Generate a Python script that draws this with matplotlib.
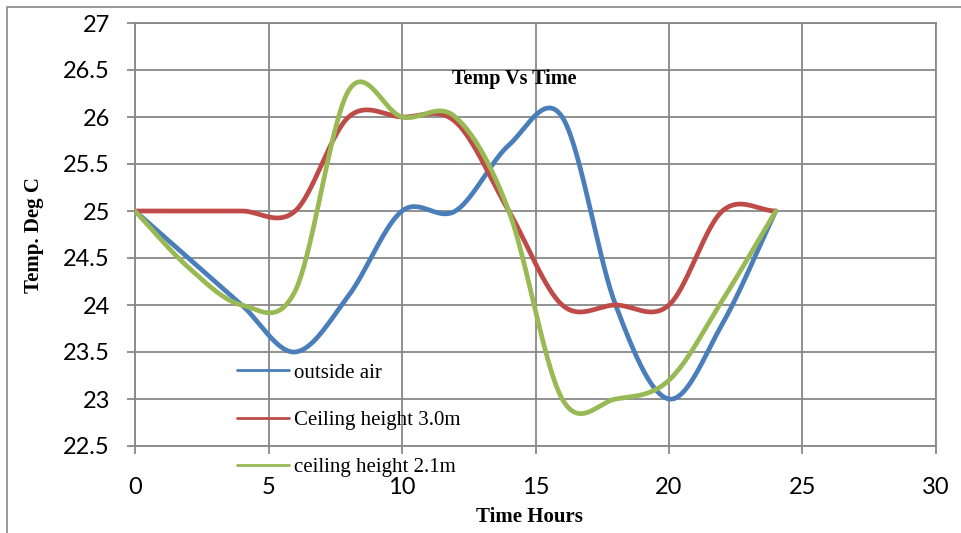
import numpy as np
import matplotlib
matplotlib.use("Agg")
import matplotlib.pyplot as plt
from matplotlib.lines import Line2D

# readings every two hours over one day
hours = [0, 2, 4, 6, 8, 10, 12, 14, 16, 18, 20, 22, 24]
outside_air = [25.0, 24.5, 24.0, 23.5, 24.1, 25.0, 25.0, 25.7, 26.0, 24.0, 23.0, 23.8, 25.0]
ceiling_3_0 = [25.0, 25.0, 25.0, 25.0, 26.0, 26.0, 25.95, 25.0, 24.0, 24.0, 24.0, 25.0, 25.0]
ceiling_2_1 = [25.0, 24.4, 24.0, 24.15, 26.28, 26.0, 26.0, 25.0, 23.0, 23.0, 23.2, 24.05, 25.0]

series_labels = ["outside air", "Ceiling height 3.0m", "ceiling height 2.1m"]
series_colors = ["#4A7EBB", "#BE4B48", "#98B954"]

x_ticks = [0, 5, 10, 15, 20, 25, 30]
y_ticks = [22.5, 23, 23.5, 24, 24.5, 25, 25.5, 26, 26.5, 27]

GRID = "#888888"
SERIF = "Liberation Serif"


def smooth(x, y, n=40):
    """Cubic Hermite (Catmull-Rom style) curve through the points."""
    x = np.asarray(x, float)
    y = np.asarray(y, float)
    m = np.gradient(y, x)
    xs, ys = [], []
    for i in range(len(x) - 1):
        h = x[i + 1] - x[i]
        t = np.linspace(0, 1, n, endpoint=(i == len(x) - 2))
        h00 = 2 * t**3 - 3 * t**2 + 1
        h10 = t**3 - 2 * t**2 + t
        h01 = -2 * t**3 + 3 * t**2
        h11 = t**3 - t**2
        xs.append(x[i] + t * h)
        ys.append(h00 * y[i] + h10 * h * m[i] + h01 * y[i + 1] + h11 * h * m[i + 1])
    return np.concatenate(xs), np.concatenate(ys)


fig = plt.figure(figsize=(9.62, 5.33), dpi=100)
ax = fig.add_axes([135 / 962, 1 - 446 / 533, (936 - 135) / 962, (446 - 23) / 533])

for values, label, color in zip([outside_air, ceiling_3_0, ceiling_2_1], series_labels, series_colors):
    sx, sy = smooth(hours, values)
    ax.plot(sx, sy, color=color, lw=3.4, label=label, solid_capstyle="round", zorder=3)

ax.set_xlim(0, 30)
ax.set_ylim(22.5, 27)
ax.set_xticks(x_ticks)
ax.set_yticks(y_ticks)
ax.set_yticklabels([f"{v:g}" for v in y_ticks])
ax.grid(True, color=GRID, lw=1.3)
ax.set_axisbelow(True)
for sp in ax.spines.values():
    sp.set_color(GRID)
    sp.set_linewidth(1.3)
ax.tick_params(axis="both", color=GRID, width=1.3, length=6, labelsize=17)
ax.tick_params(axis="x", pad=16)
ax.tick_params(axis="y", pad=12)
for lbl in ax.get_xticklabels() + ax.get_yticklabels():
    lbl.set_fontfamily("Lato")

ax.set_xlabel("Time Hours", fontfamily=SERIF, fontweight="bold", fontsize=15)
ax.xaxis.set_label_coords(0.493, -0.168)
ax.xaxis.label.set_va("center")
ax.set_ylabel("Temp. Deg C", fontfamily=SERIF, fontweight="bold", fontsize=15)
ax.yaxis.set_label_coords(-0.126, 0.499)
ax.yaxis.label.set_va("center")
ax.yaxis.label.set_ha("center")

ax.text(0.474, 0.868, "Temp Vs Time", transform=ax.transAxes, ha="center", va="center",
        fontfamily=SERIF, fontweight="bold", fontsize=14.5)

leg = ax.legend(loc="center left", bbox_to_anchor=(237 / 962, 1 - 420 / 533),
                bbox_transform=fig.transFigure, frameon=False, borderpad=0,
                borderaxespad=0, handlelength=2.5, handletextpad=0.25,
                labelspacing=1.33, prop={"family": SERIF, "size": 15})
for line in leg.get_lines():
    line.set_linewidth(2.0)

# outer chart-area border (left and top edges)
fig.add_artist(Line2D([7 / 962, 7 / 962, 1.0], [0.0, 1 - 7 / 533, 1 - 7 / 533],
                      transform=fig.transFigure, color=GRID, lw=1.2))

fig.savefig("out.png", dpi=100, facecolor="white")
